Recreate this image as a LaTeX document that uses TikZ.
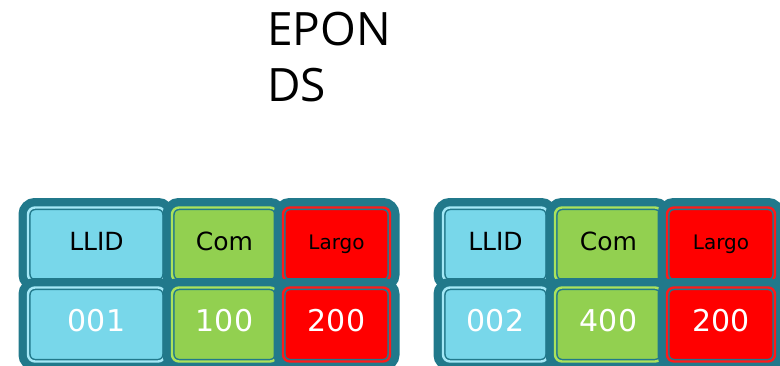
\documentclass[tikz,border=0pt]{standalone}
\usepackage{fontspec}
\setmainfont{DejaVu Sans}
\newfontfamily\titlefont{Open Sans}
\definecolor{tealb}{HTML}{21798B}
\definecolor{cyanf}{HTML}{78D7EA}
\definecolor{cyanl}{HTML}{A4E8F6}
\definecolor{greenf}{HTML}{92D050}
\definecolor{greenl}{HTML}{ABE25C}
\definecolor{redf}{HTML}{FF0000}
\definecolor{redl}{HTML}{FF1A1A}
\tikzset{
  cell/.style 2 args={rounded corners=7pt, inner sep=0pt, minimum height=74pt,
    fill=#1, draw=tealb, double=#2, double distance=2.4pt, line width=1.5pt,
    preaction={draw=tealb, line width=19pt}},
  headtxt/.style={font=\fontsize{25}{30}\selectfont, text=black, text height=18.2pt, text depth=6pt},
  smalltxt/.style={font=\fontsize{20}{24}\selectfont, text=black, text height=15pt, text depth=5.4pt},
  numtxt/.style={font=\fontsize{30}{36}\selectfont, text=white, text height=22pt, text depth=8pt},
  titletxt/.style={font=\titlefont\fontsize{46}{56}\selectfont, align=left, inner sep=0pt, anchor=north west}
}
\begin{document}
\begin{tikzpicture}[x=1pt,y=-1pt]
\useasboundingbox (0,0) rectangle (780,365);
\clip (0,0) rectangle (780,365);
\node[titletxt] (title) at (267,12) {EPON\\DS};
% group 1
\node[cell={cyanf}{cyanl}, minimum width=137pt, headtxt] (a1) at (96.5,244.5) {LLID};
\node[cell={greenf}{greenl}, minimum width=105pt, headtxt] (a2) at (224.5,244.5) {Com};
\node[cell={redf}{redl}, minimum width=107pt, smalltxt] (a3) at (336.5,244.5) {Largo};
\node[cell={cyanf}{cyanl}, minimum width=137pt, numtxt] (b1) at (96.5,324.5) {001};
\node[cell={greenf}{greenl}, minimum width=105pt, numtxt] (b2) at (224.5,324.5) {100};
\node[cell={redf}{redl}, minimum width=107pt, numtxt] (b3) at (336.5,324.5) {200};
% group 2
\node[cell={cyanf}{cyanl}, minimum width=105pt, headtxt] (c1) at (495.5,244.5) {LLID};
\node[cell={greenf}{greenl}, minimum width=107pt, headtxt] (c2) at (608.5,244.5) {Com};
\node[cell={redf}{redl}, minimum width=108pt, smalltxt] (c3) at (721,244.5) {Largo};
\node[cell={cyanf}{cyanl}, minimum width=105pt, numtxt] (d1) at (495.5,324.5) {002};
\node[cell={greenf}{greenl}, minimum width=107pt, numtxt] (d2) at (608.5,324.5) {400};
\node[cell={redf}{redl}, minimum width=108pt, numtxt] (d3) at (721,324.5) {200};
\end{tikzpicture}
\end{document}
